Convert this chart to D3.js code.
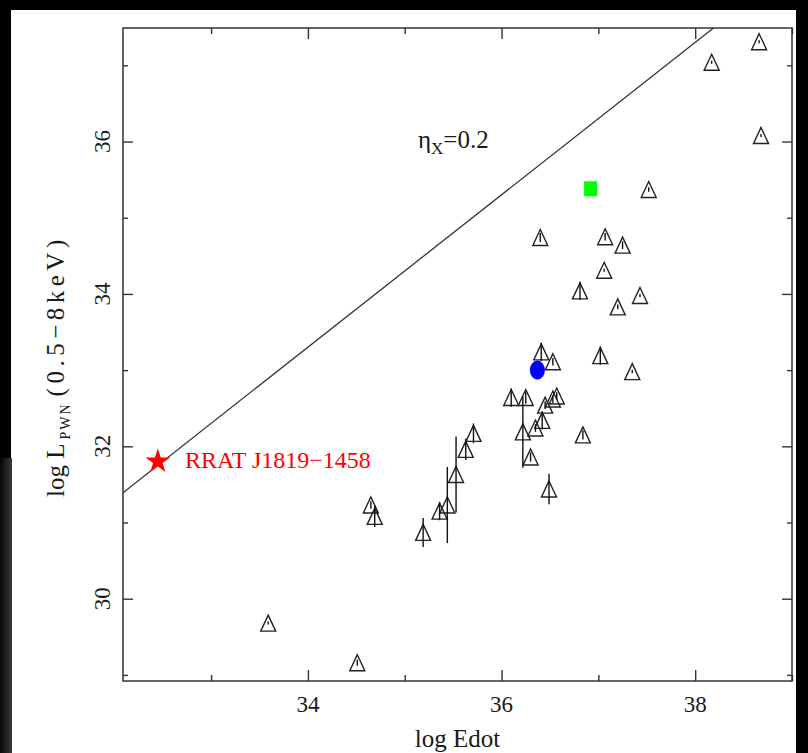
<!DOCTYPE html>
<html lang="en">
<head>
<meta charset="UTF-8">
<title>log L_PWN vs log Edot</title>
<script src="https://d3js.org/d3.v7.min.js"></script>
<style>
  html, body { margin: 0; padding: 0; background: #fff; }
  svg { display: block; }
  text { font-family: "Liberation Serif", "DejaVu Serif", serif; fill: #1a1a1a; }
</style>
</head>
<body>
<div id="chart"></div>
<script>
// PWN sample (triangles): log Edot, log L_PWN and half-length of the error bar
const edot = [38.66, 38.17, 38.68, 37.52, 36.40, 37.07, 37.25, 37.06, 36.81, 37.43,
              37.20, 36.41, 36.53, 37.02, 37.35, 36.10, 36.25, 36.57, 36.53, 36.45,
              36.42, 36.35, 36.30, 36.84, 36.49, 36.22, 34.65, 34.69, 35.19, 35.36,
              35.44, 35.53, 35.63, 35.71, 33.59, 34.51];
const lpwn = [37.31, 37.04, 36.08, 35.37, 34.74, 34.75, 34.64, 34.31, 34.04, 33.98,
              33.83, 33.24, 33.11, 33.19, 32.98, 32.64, 32.64, 32.66, 32.62, 32.54,
              32.34, 32.24, 31.86, 32.15, 31.44, 32.19, 31.23, 31.08, 30.87, 31.15,
              31.23, 31.63, 31.96, 32.17, 29.68, 29.16];
const lerr = [0.02, 0.02, 0.02, 0.03, 0.06, 0.05, 0.05, 0.02, 0.12, 0.02,
              0.03, 0.12, 0.05, 0.12, 0.02, 0.12, 0.08, 0.05, 0.05, 0.05,
              0.12, 0.05, 0.06, 0.06, 0.20, 0.47, 0.05, 0.14, 0.19, 0.12,
              0.50, 0.50, 0.14, 0.13, 0.02, 0.04];

const rrat = { edot: 32.45, lpwn: 31.80, label: "RRAT J1819\u22121458" };
const bluePoint = { edot: 36.37, lpwn: 33.00 };
const greenPoint = { edot: 36.92, lpwn: 35.38 };
const eta = 0.2;

const xMajor = [34, 36, 38];
const xMinor = [33, 35, 37, 39];
const yMajor = [30, 32, 34, 36];
const yMinor = [29, 31, 33, 35, 37];

const W = 808, H = 753;
const pL = 123, pR = 792, pT = 28, pB = 681;

const svg = d3.select("#chart").append("svg")
  .attr("width", W).attr("height", H);

// dark borders of the original screenshot
const grad = svg.append("defs").append("linearGradient").attr("id", "edge")
  .attr("x1", 0).attr("x2", 1).attr("y1", 0).attr("y2", 0);
grad.append("stop").attr("offset", "0%").attr("stop-color", "#050505");
grad.append("stop").attr("offset", "100%").attr("stop-color", "#3a3a3a");
svg.append("rect").attr("x", 0).attr("y", 0).attr("width", W).attr("height", 10).attr("fill", "#000");
svg.append("rect").attr("x", 796).attr("y", 0).attr("width", 12).attr("height", H).attr("fill", "#000");
svg.append("rect").attr("x", 0).attr("y", 0).attr("width", 11).attr("height", 458).attr("fill", "#000");
svg.append("rect").attr("x", 0).attr("y", 458).attr("width", 12).attr("height", H - 458).attr("fill", "url(#edge)");

const x = d3.scaleLinear().domain([32.09, 39.0]).range([pL, pR]);
const y = d3.scaleLinear().domain([28.92, 37.49]).range([pB, pT]);

svg.append("clipPath").attr("id", "plot")
  .append("rect").attr("x", pL).attr("y", pT)
  .attr("width", pR - pL).attr("height", pB - pT);

// inward ticks on all four sides
function xticks(vals, len) {
  svg.append("g").attr("transform", `translate(0,${pB})`)
    .call(d3.axisBottom(x).tickValues(vals).tickSize(-len).tickFormat(""));
  svg.append("g").attr("transform", `translate(0,${pT})`)
    .call(d3.axisTop(x).tickValues(vals).tickSize(-len).tickFormat(""));
}
function yticks(vals, len) {
  svg.append("g").attr("transform", `translate(${pL},0)`)
    .call(d3.axisLeft(y).tickValues(vals).tickSize(-len).tickFormat(""));
  svg.append("g").attr("transform", `translate(${pR},0)`)
    .call(d3.axisRight(y).tickValues(vals).tickSize(-len).tickFormat(""));
}
xticks(xMajor, 11); xticks(xMinor, 6);
yticks(yMajor, 10); yticks(yMinor, 5);
svg.selectAll(".domain").remove();
svg.selectAll(".tick line").attr("stroke", "#333").attr("stroke-width", 1.4);

svg.append("rect").attr("x", pL).attr("y", pT)
  .attr("width", pR - pL).attr("height", pB - pT)
  .attr("fill", "none").attr("stroke", "#333").attr("stroke-width", 1.5);

// tick labels
svg.append("g").selectAll("text").data(xMajor).join("text")
  .attr("x", d => x(d)).attr("y", 712)
  .attr("text-anchor", "middle").attr("font-size", 23)
  .text(d => d);
svg.append("g").selectAll("text").data(yMajor).join("text")
  .attr("transform", d => `translate(110,${y(d)}) rotate(-90)`)
  .attr("text-anchor", "middle").attr("font-size", 23)
  .text(d => d);

// axis titles
svg.append("text").attr("x", (pL + pR) / 2).attr("y", 747)
  .attr("text-anchor", "middle").attr("font-size", 25).text("log Edot");

const yl = svg.append("text").attr("transform", "translate(64,497) rotate(-90)")
  .attr("font-size", 25);
yl.append("tspan").text("log L");
yl.append("tspan").attr("font-size", 14).attr("dy", 6).attr("dx", 4)
  .attr("letter-spacing", 2).text("PWN");
yl.append("tspan").attr("dy", -6).attr("dx", 6)
  .attr("letter-spacing", 4.5).text("(0.5\u22128keV)");

// efficiency line L = eta * Edot
const lx = x.domain();
svg.append("line").attr("clip-path", "url(#plot)")
  .attr("x1", x(lx[0])).attr("y1", y(lx[0] + Math.log10(eta)))
  .attr("x2", x(lx[1])).attr("y2", y(lx[1] + Math.log10(eta)))
  .attr("stroke", "#333").attr("stroke-width", 1.3);

const el = svg.append("text").attr("x", 418).attr("y", 148).attr("font-size", 25);
el.append("tspan").text("\u03b7");
el.append("tspan").attr("font-size", 17).attr("dy", 6).text("X");
el.append("tspan").attr("dy", -6).text("=0.2");

// PWN triangles with error bars
const pts = edot.map((e, i) => ({ e, l: lpwn[i], s: lerr[i] }));
svg.append("g").selectAll("path").data(pts).join("path")
  .attr("transform", d => `translate(${x(d.e)},${y(d.l)})`)
  .attr("d", "M0,-8L7.5,8L-7.5,8Z")
  .attr("fill", "none").attr("stroke", "#222").attr("stroke-width", 1.4)
  .attr("stroke-linejoin", "miter");
svg.append("g").selectAll("line").data(pts).join("line")
  .attr("x1", d => x(d.e)).attr("x2", d => x(d.e))
  .attr("y1", d => y(d.l - d.s)).attr("y2", d => y(d.l + d.s))
  .attr("stroke", "#111").attr("stroke-width", 1.4);

// special objects
svg.append("ellipse").attr("cx", x(bluePoint.edot)).attr("cy", y(bluePoint.lpwn))
  .attr("rx", 7.5).attr("ry", 9.5).attr("fill", "#0000ff");
svg.append("rect").attr("x", x(greenPoint.edot) - 6.5).attr("y", y(greenPoint.lpwn) - 7.5)
  .attr("width", 13).attr("height", 15).attr("fill", "#00ff00");

svg.append("path")
  .attr("transform", `translate(${x(rrat.edot)},${y(rrat.lpwn)})`)
  .attr("d", d3.symbol(d3.symbolStar).size(190)())
  .attr("fill", "#ff0000");
svg.append("text").attr("x", 185).attr("y", 468)
  .attr("font-size", 24).style("fill", "#ff0000").text(rrat.label);
</script>
</body>
</html>
